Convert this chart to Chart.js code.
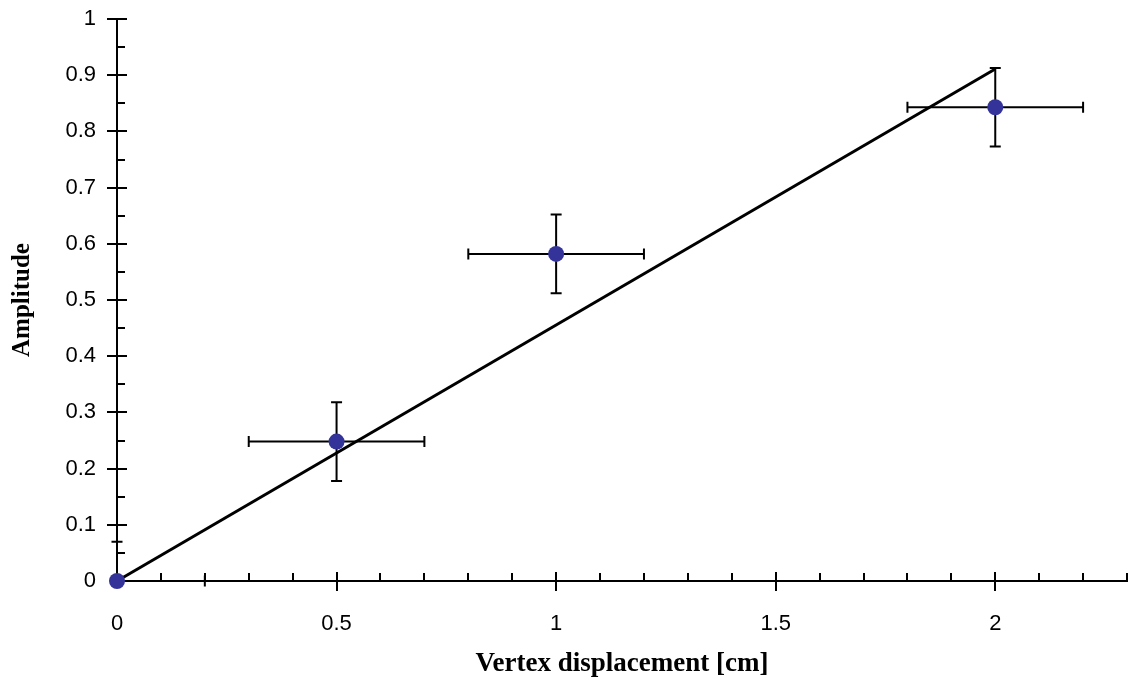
<!DOCTYPE html>
<html>
<head>
<meta charset="utf-8">
<script src="https://cdn.jsdelivr.net/npm/chart.js@4/dist/chart.umd.min.js"></script>
<style>
  html, body { margin: 0; padding: 0; background: #fff; }
  #wrap { width: 1135px; height: 684px; }
</style>
</head>
<body>
<div id="wrap"><canvas id="c" width="1135" height="684"></canvas></div>
<script>
// Measured amplitudes against vertex displacement
const displacement = [0, 0.5, 1, 2];
const amplitude = [0, 0.248, 0.582, 0.843];
const xError = [0.2, 0.2, 0.2, 0.2];
const yError = [0.07, 0.07, 0.07, 0.07];

// Linear fit through the origin
const fitX = [0, 2];
const fitY = [0, 0.911];

// Axis ticks
const xTickValues = [0, 0.5, 1, 1.5, 2];
const xTickLabels = ['0', '0.5', '1', '1.5', '2'];
const xMinorStep = 0.1;
const yTickValues = [0, 0.1, 0.2, 0.3, 0.4, 0.5, 0.6, 0.7, 0.8, 0.9, 1];
const yTickLabels = ['0', '0.1', '0.2', '0.3', '0.4', '0.5', '0.6', '0.7', '0.8', '0.9', '1'];
const yMinorStep = 0.05;

const X_MIN = 0, X_MAX = 2.3, Y_MIN = 0, Y_MAX = 1;

// Axes with crossing major ticks and inward minor ticks
const axesPlugin = {
  id: 'axes',
  beforeDatasetsDraw(chart) {
    const ctx = chart.ctx, xs = chart.scales.x, ys = chart.scales.y;
    const x0 = xs.getPixelForValue(X_MIN), x1 = xs.getPixelForValue(X_MAX);
    const y0 = ys.getPixelForValue(Y_MIN), y1 = ys.getPixelForValue(Y_MAX);
    ctx.save();
    ctx.strokeStyle = '#000';
    ctx.lineWidth = 2;
    ctx.lineCap = 'butt';
    ctx.beginPath();
    ctx.moveTo(x0, y1); ctx.lineTo(x0, y0 + 1);
    ctx.moveTo(x0 - 1, y0); ctx.lineTo(x1 + 1, y0);
    // x ticks
    const nx = Math.round((X_MAX - X_MIN) / xMinorStep);
    for (let i = 1; i <= nx; i++) {
      const v = X_MIN + i * xMinorStep;
      const px = Math.round(xs.getPixelForValue(v));
      const major = xTickValues.some(t => Math.abs(t - v) < 1e-6);
      if (major) { ctx.moveTo(px, y0 - 9); ctx.lineTo(px, y0 + 10); }
      else { ctx.moveTo(px, y0); ctx.lineTo(px, y0 - 8); }
    }
    // y ticks
    const ny = Math.round((Y_MAX - Y_MIN) / yMinorStep);
    for (let i = 1; i <= ny; i++) {
      const v = Y_MIN + i * yMinorStep;
      const py = Math.round(ys.getPixelForValue(v));
      const major = yTickValues.some(t => Math.abs(t - v) < 1e-6);
      if (major) { ctx.moveTo(x0 - 10, py); ctx.lineTo(x0 + 10, py); }
      else { ctx.moveTo(x0, py); ctx.lineTo(x0 + 8, py); }
    }
    ctx.stroke();
    ctx.restore();
  }
};

// Horizontal and vertical error bars, kept inside the axis ranges
const errorBarPlugin = {
  id: 'errorBars',
  beforeDatasetDraw(chart, args) {
    if (args.index !== 0) return;
    const ctx = chart.ctx, xs = chart.scales.x, ys = chart.scales.y;
    const cap = 5.5;
    ctx.save();
    ctx.strokeStyle = '#000';
    ctx.lineWidth = 2;
    ctx.beginPath();
    displacement.forEach((xv, i) => {
      const yv = amplitude[i];
      const px = xs.getPixelForValue(xv), py = ys.getPixelForValue(yv);
      const lo = xv - xError[i], hi = xv + xError[i];
      const xl = xs.getPixelForValue(Math.max(lo, X_MIN));
      const xr = xs.getPixelForValue(Math.min(hi, X_MAX));
      ctx.moveTo(xl, py); ctx.lineTo(xr, py);
      if (lo >= X_MIN) { ctx.moveTo(xl, py - cap); ctx.lineTo(xl, py + cap); }
      if (hi <= X_MAX) { ctx.moveTo(xr, py - cap); ctx.lineTo(xr, py + cap); }
      const dn = yv - yError[i], up = yv + yError[i];
      const yb = ys.getPixelForValue(Math.max(dn, Y_MIN));
      const yt = ys.getPixelForValue(Math.min(up, Y_MAX));
      ctx.moveTo(px, yb); ctx.lineTo(px, yt);
      if (dn >= Y_MIN) { ctx.moveTo(px - cap, yb); ctx.lineTo(px + cap, yb); }
      if (up <= Y_MAX) { ctx.moveTo(px - cap, yt); ctx.lineTo(px + cap, yt); }
    });
    ctx.stroke();
    ctx.restore();
  }
};

const tickFont = { family: "'Liberation Sans', Arial, sans-serif", size: 22 };
const serif = "'Liberation Serif', 'Times New Roman', serif";

new Chart(document.getElementById('c'), {
  type: 'scatter',
  data: {
    datasets: [
      {
        label: 'Amplitude',
        data: displacement.map((x, i) => ({ x, y: amplitude[i] })),
        backgroundColor: '#333399',
        borderColor: '#333399',
        pointRadius: 8,
        pointHoverRadius: 8,
        borderWidth: 0,
        clip: false
      },
      {
        type: 'line',
        label: 'Fit',
        data: fitX.map((x, i) => ({ x, y: fitY[i] })),
        borderColor: '#000',
        borderWidth: 3,
        pointRadius: 0,
        fill: false,
        clip: false
      }
    ]
  },
  options: {
    responsive: false,
    animation: false,
    events: [],
    layout: { padding: { top: 19, right: -4, left: 0, bottom: 0 } },
    plugins: { legend: { display: false }, tooltip: { enabled: false } },
    scales: {
      x: {
        type: 'linear',
        min: X_MIN, max: X_MAX,
        grid: { display: false, drawTicks: false },
        border: { display: false },
        afterBuildTicks(scale) { scale.ticks = xTickValues.map(v => ({ value: v })); },
        afterFit(scale) {
          scale.height = 103;
          scale.paddingLeft = 0; scale.paddingRight = 0;
          scale.paddingTop = 0; scale.paddingBottom = 0;
        },
        ticks: {
          color: '#000', font: tickFont, padding: 30, maxRotation: 0,
          callback: (v) => { const i = xTickValues.indexOf(v); return i >= 0 ? xTickLabels[i] : ''; }
        },
        title: { display: true, text: 'Vertex displacement [cm]', color: '#000',
                 font: { family: serif, size: 27, weight: 'bold' }, padding: { top: 0, bottom: 4 } }
      },
      y: {
        type: 'linear',
        min: Y_MIN, max: Y_MAX,
        grid: { display: false, drawTicks: false },
        border: { display: false },
        afterBuildTicks(scale) { scale.ticks = yTickValues.map(v => ({ value: v })); },
        afterFit(scale) {
          scale.width = 117;
          scale.paddingLeft = 0; scale.paddingRight = 0;
          scale.paddingTop = 0; scale.paddingBottom = 0;
        },
        ticks: {
          color: '#000', font: tickFont, padding: 21,
          callback: (v) => { const i = yTickValues.indexOf(v); return i >= 0 ? yTickLabels[i] : ''; }
        },
        title: { display: true, text: 'Amplitude', color: '#000',
                 font: { family: serif, size: 25, weight: 'bold' }, padding: { top: 8, bottom: 0 } }
      }
    }
  },
  plugins: [axesPlugin, errorBarPlugin]
});
</script>
</body>
</html>
